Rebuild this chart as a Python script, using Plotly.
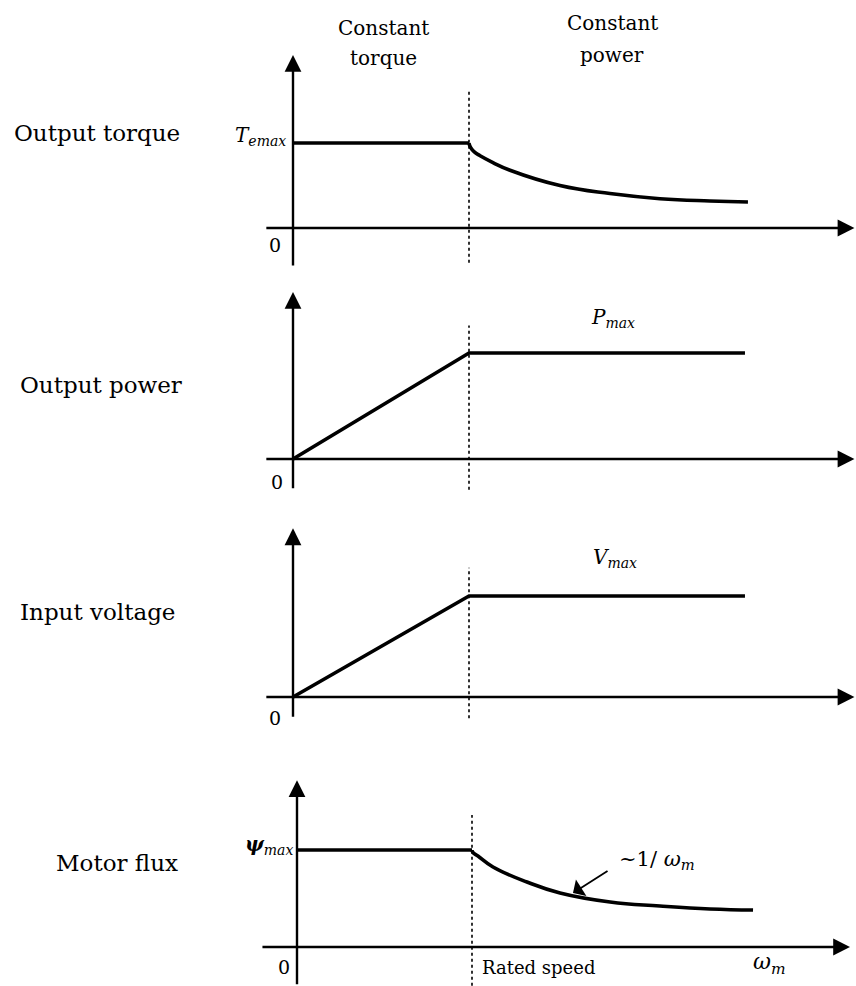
import plotly.graph_objects as go

# ---- data (speed in per-unit of rated speed, quantities in per-unit of their maximum) ----
panel_names = ["Output torque", "Output power", "Input voltage", "Motor flux"]
column_titles = [["Constant", "torque"], ["Constant", "power"]]

torque_speed = [0.0, 1.0]
torque_const = [1.0, 1.0]
torque_fw_speed = [1.0, 1.003, 1.01, 1.03, 1.063, 1.136, 1.233, 1.517, 1.801, 2.085, 2.369, 2.585]
torque_fw = [1.0, 0.975, 0.945, 0.895, 0.850, 0.770, 0.680, 0.500, 0.405, 0.345, 0.318, 0.306]

power_speed = [0.0, 1.0, 2.568]
power = [0.0, 1.0, 1.0]

voltage_speed = [0.0, 1.0, 2.568]
voltage = [0.0, 1.0, 1.0]

flux_speed = [0.0, 1.0]
flux_const = [1.0, 1.0]
flux_fw_speed = [1.0, 1.005, 1.034, 1.12, 1.314, 1.503, 1.789, 2.074, 2.36, 2.606]
flux_fw = [1.0, 0.975, 0.938, 0.825, 0.670, 0.557, 0.464, 0.423, 0.392, 0.381]

level_labels = ["<i>T</i><sub><i>emax</i></sub>", "<i>P</i><sub><i>max</i></sub>",
                "<i>V</i><sub><i>max</i></sub>", "<b><i>ψ</i></b><sub><i>max</i></sub>"]
rated_label = "Rated speed"
speed_label = "<i>ω</i><sub><i>m</i></sub>"
flux_note = "~1/ <i>ω</i><sub><i>m</i></sub>"

# ---- page geometry ----
W, H = 856, 986
FONT = "DejaVu Serif"
INK = "black"

# per panel: pixel of origin (x, y), px per unit in x and y, axis extents in data units
panels = [
    dict(ox=293, oy=228, sx=176, sy=85,
         yax=(-0.46, 2.035), xax=(-0.16, 3.19), dash=(-0.41, 1.62),
         lvl=(-0.03, 1.08, "right"), zero=(-0.10, -0.20), lab=(97, 133)),
    dict(ox=293, oy=459, sx=176, sy=106,
         yax=(-0.29, 1.575), xax=(-0.16, 3.19), dash=(-0.29, 1.26),
         lvl=(1.82, 1.33, "center"), zero=(-0.09, -0.22), lab=(101, 385)),
    dict(ox=293, oy=697, sx=176, sy=101,
         yax=(-0.21, 1.67), xax=(-0.16, 3.19), dash=(-0.21, 1.28),
         lvl=(1.83, 1.38, "center"), zero=(-0.10, -0.21), lab=(97, 612)),
    dict(ox=297, oy=947, sx=175, sy=97,
         yax=(-0.40, 1.72), xax=(-0.206, 3.16), dash=(-0.40, 1.36),
         lvl=(-0.01, 1.05, "right"), zero=(-0.074, -0.206), lab=(117, 863)),
]

series = [
    [(torque_speed, torque_const, "linear"), (torque_fw_speed, torque_fw, "spline")],
    [(power_speed, power, "linear")],
    [(voltage_speed, voltage, "linear")],
    [(flux_speed, flux_const, "linear"), (flux_fw_speed, flux_fw, "spline")],
]

fig = go.Figure()
annotations = []
layout_axes = {}


def arrow(x0, y0, x1, y1, xa, ya, width, size, head=2):
    """Arrow drawn from (x0, y0) to its tip at (x1, y1)."""
    annotations.append(dict(x=x1, y=y1, ax=x0, ay=y0, xref=xa, yref=ya, axref=xa, ayref=ya,
                            text="", showarrow=True, arrowhead=head, arrowsize=size,
                            arrowwidth=width, arrowcolor=INK, standoff=0, startstandoff=0))


for i, p in enumerate(panels):
    n = i + 1
    xa = "x" if n == 1 else f"x{n}"
    ya = "y" if n == 1 else f"y{n}"
    xkey = "xaxis" if n == 1 else f"xaxis{n}"
    ykey = "yaxis" if n == 1 else f"yaxis{n}"
    xr = [-p["ox"] / p["sx"], (W - p["ox"]) / p["sx"]]
    yr = [(p["oy"] - H) / p["sy"], p["oy"] / p["sy"]]
    layout_axes[xkey] = dict(domain=[0, 1], range=xr, visible=False, fixedrange=True, anchor=ya)
    layout_axes[ykey] = dict(domain=[0, 1], range=yr, visible=False, fixedrange=True, anchor=xa)

    # dotted rated-speed marker
    fig.add_trace(go.Scatter(x=[1, 1], y=list(p["dash"]), xaxis=xa, yaxis=ya, mode="lines",
                             line=dict(color=INK, width=1.6, dash="dot"), hoverinfo="skip"))

    # characteristic curves
    for xs, ys, shape in series[i]:
        fig.add_trace(go.Scatter(x=xs, y=ys, xaxis=xa, yaxis=ya, mode="lines",
                                 line=dict(color=INK, width=3.6, shape=shape, smoothing=1.3),
                                 hoverinfo="skip"))

    # drawn axes with arrowheads
    arrow(0, p["yax"][0], 0, p["yax"][1], xa, ya, 2.4, 1.4)
    arrow(p["xax"][0], 0, p["xax"][1], 0, xa, ya, 2.4, 1.4)

    # level label and origin label
    lx, ly, anc = p["lvl"]
    annotations.append(dict(x=lx, y=ly, xref=xa, yref=ya, text=level_labels[i], showarrow=False,
                            xanchor=anc, yanchor="middle",
                            font=dict(family=FONT, size=20, color=INK)))
    zx, zy = p["zero"]
    annotations.append(dict(x=zx, y=zy, xref=xa, yref=ya, text="0", showarrow=False,
                            xanchor="center", yanchor="middle",
                            font=dict(family=FONT, size=19, color=INK)))

    # row title on the left
    annotations.append(dict(x=p["lab"][0] / W, y=1 - p["lab"][1] / H, xref="paper", yref="paper",
                            text=panel_names[i], showarrow=False, xanchor="center",
                            yanchor="middle", font=dict(family=FONT, size=23, color=INK)))

# bottom panel extras: rated speed, speed symbol, 1/ω note with pointer
annotations.append(dict(x=1.046, y=-0.21, xref="x4", yref="y4", text=rated_label, showarrow=False,
                        xanchor="left", yanchor="middle", font=dict(family=FONT, size=18, color=INK)))
annotations.append(dict(x=2.70, y=-0.17, xref="x4", yref="y4", text=speed_label, showarrow=False,
                        xanchor="center", yanchor="middle", font=dict(family=FONT, size=22, color=INK)))
annotations.append(dict(x=1.83, y=0.897, xref="x4", yref="y4", text=flux_note, showarrow=False,
                        xanchor="left", yanchor="middle", font=dict(family=FONT, size=21, color=INK)))
arrow(1.783, 0.794, 1.577, 0.557, "x4", "y4", 1.8, 1.8, head=1)

# column headings
heading_pos = [(383, [28, 58]), (612, [23, 55])]
for (cx, ys), lines in zip(heading_pos, column_titles):
    for yy, t in zip(ys, lines):
        annotations.append(dict(x=cx / W, y=1 - yy / H, xref="paper", yref="paper", text=t,
                                showarrow=False, xanchor="center", yanchor="middle",
                                font=dict(family=FONT, size=20, color=INK)))

fig.update_layout(
    width=W, height=H, autosize=False,
    margin=dict(l=0, r=0, t=0, b=0, pad=0),
    paper_bgcolor="white", plot_bgcolor="rgba(0,0,0,0)",
    showlegend=False, annotations=annotations,
    **layout_axes,
)

fig.write_html("out.html", config=dict(displayModeBar=False, staticPlot=True))
